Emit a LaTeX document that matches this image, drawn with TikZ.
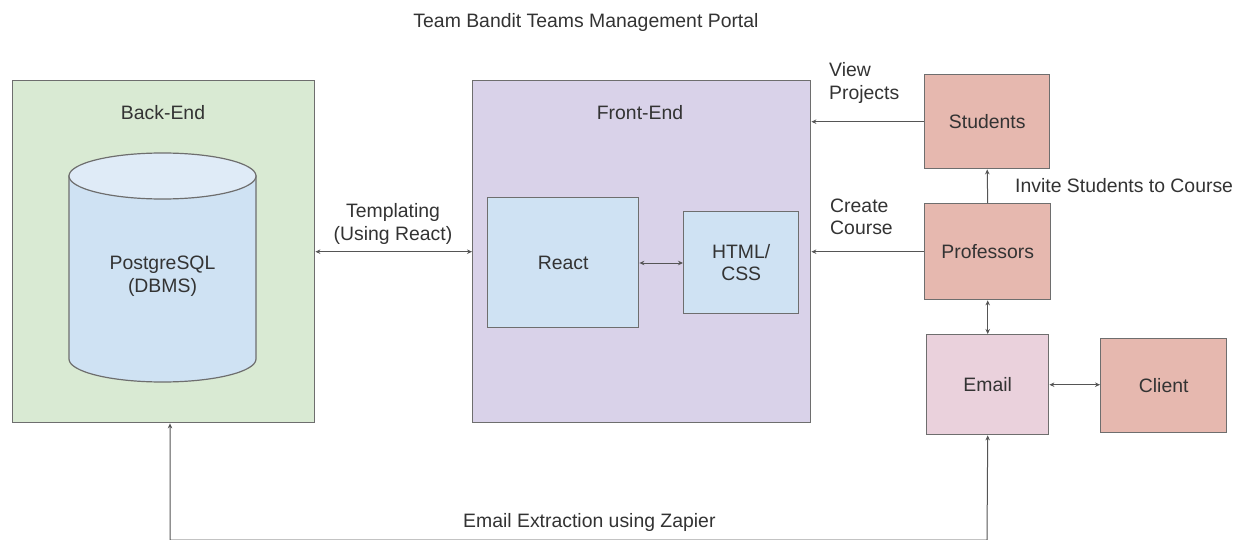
\documentclass[tikz,border=0pt]{standalone}
\usepackage{fontspec}
\setmainfont{Liberation Sans}
\usetikzlibrary{arrows.meta}
\definecolor{bgreen}{HTML}{D9EAD3}
\definecolor{bpurple}{HTML}{D9D2E9}
\definecolor{bblue}{HTML}{CFE2F3}
\definecolor{bbluetop}{HTML}{DFEBF7}
\definecolor{bsalmon}{HTML}{E6B8AF}
\definecolor{bpink}{HTML}{EAD1DC}
\definecolor{bord}{HTML}{6E6E6E}
\definecolor{lne}{HTML}{555555}
\definecolor{txt}{HTML}{333333}
\begin{document}
\begin{tikzpicture}[x=1pt,y=-1pt,
  every node/.style={font=\fontsize{19.4}{22.5}\selectfont, text=txt},
  box/.style={draw=bord, line width=1.4pt, inner sep=0pt, anchor=north west},
  conn/.style={draw=lne, line width=1pt},
  >={Stealth[length=5pt,width=4.5pt]},
  lbl/.style={align=center, inner sep=0pt},
  lbll/.style={align=left, anchor=west, inner sep=0pt}]
\fill[white] (0,0) rectangle (1236,540);
\useasboundingbox (0,0) rectangle (1236,540);

% title
\node[lbl] (title) at (586,22) {Team Bandit Teams Management Portal};

% back-end
\node[box, fill=bgreen, minimum width=302, minimum height=342] (backend) at (12,80) {};
\node[lbl] (belabel) at (163,113) {Back-End};
\path[fill=bblue, draw=bord, line width=1.2pt]
  (69,176) -- (69,359) arc[start angle=180,end angle=360,x radius=93.5pt,y radius=23pt]
  -- (256,176) -- cycle;
\draw[fill=bbluetop, draw=bord, line width=1.2pt] (162.5,176) ellipse[x radius=93.5pt,y radius=23pt];
\node[lbl] (db) at (162.5,276) {PostgreSQL\\(DBMS)};

% front-end
\node[box, fill=bpurple, minimum width=338, minimum height=342] (frontend) at (472,80) {};
\node[lbl] (felabel) at (640,113) {Front-End};
\node[box, fill=bblue, minimum width=151, minimum height=130] (react) at (487,197) {};
\node[lbl] at (react.center) {React};
\node[box, fill=bblue, minimum width=115, minimum height=102] (html) at (683,211) {};
\node[lbl] at (html.center) {HTML/\\CSS};

% actors
\node[box, fill=bsalmon, minimum width=125, minimum height=94] (students) at (924,74) {};
\node[lbl] at (students.center) {Students};
\node[box, fill=bsalmon, minimum width=126, minimum height=96] (profs) at (924,203) {};
\node[lbl] at (profs.center) {Professors};
\node[box, fill=bpink, minimum width=122, minimum height=100] (email) at (926,334) {};
\node[lbl] at (email.center) {Email};
\node[box, fill=bsalmon, minimum width=126, minimum height=94] (client) at (1100,338) {};
\node[lbl] at (client.center) {Client};

% labels
\node[lbl] (tmpl) at (393,224) {Templating\\(Using React)};
\node[lbll] (view) at (829,83) {View\\Projects};
\node[lbll] (create) at (830,217) {Create\\Course};
\node[lbll] (invite) at (1015,186) {Invite Students to Course};
\node[lbll] (zap) at (463,522) {Email Extraction using Zapier};

% connectors
\draw[conn,<->] (backend.east) -- (frontend.west);
\draw[conn,<->] (react.east |- 0,263) -- (html.west |- 0,263);
\draw[conn,->] (students.west) -- (frontend.east |- students.west);
\draw[conn,->] (profs.west) -- (frontend.east |- profs.west);
\draw[conn,->] (profs.north) -- (students.south);
\draw[conn,<->] (profs.south) -- (email.north);
\draw[conn,<->] (email.east) -- (client.west |- email.east);
\coordinate (bl) at (170,540);
\coordinate (br) at (987,540);
\draw[conn,<->] (backend.south -| bl) -- (bl) -- (br) -- (email.south);
\end{tikzpicture}
\end{document}
